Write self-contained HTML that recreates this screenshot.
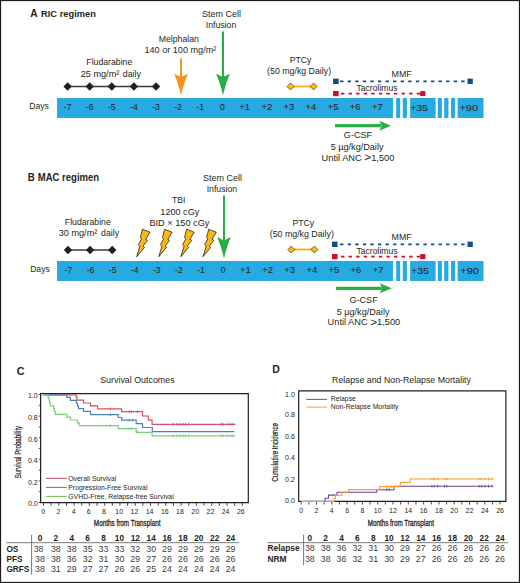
<!DOCTYPE html>
<html><head><meta charset="utf-8"><style>
html,body{margin:0;padding:0;background:#fff;}
body{width:520px;height:583px;overflow:hidden;}
svg{display:block;}
text{font-family:"Liberation Sans", sans-serif;}
</style></head><body>
<svg width="520" height="583" viewBox="0 0 520 583" font-family='"Liberation Sans", sans-serif'>
<rect x="0" y="0" width="520" height="583" fill="#fff"/>
<rect x="0.5" y="0.5" width="519" height="582" fill="none" stroke="#1a1718" stroke-width="1.2"/>
<text x="30.20" y="16.60" font-size="10.8" text-anchor="start" font-weight="700" fill="#231f20" textLength="7.4" lengthAdjust="spacingAndGlyphs">A</text>
<text x="41.00" y="16.60" font-size="9.9" text-anchor="start" font-weight="700" fill="#231f20" textLength="54.9" lengthAdjust="spacingAndGlyphs">RIC regimen</text>
<rect x="57.00" y="98.00" width="336.00" height="20.00" fill="#27a9e1"/>
<rect x="396.20" y="98.00" width="4.00" height="20.00" fill="#27a9e1"/>
<rect x="402.80" y="98.00" width="4.10" height="20.00" fill="#27a9e1"/>
<rect x="410.10" y="98.00" width="25.50" height="20.00" fill="#27a9e1"/>
<rect x="437.80" y="98.00" width="4.10" height="20.00" fill="#27a9e1"/>
<rect x="444.20" y="98.00" width="4.20" height="20.00" fill="#27a9e1"/>
<rect x="451.00" y="98.00" width="4.20" height="20.00" fill="#27a9e1"/>
<rect x="457.60" y="98.00" width="25.90" height="20.00" fill="#27a9e1"/>
<text x="29.20" y="109.10" font-size="8.6" text-anchor="start" font-weight="400" fill="#231f20">Days</text>
<text x="67.60" y="110.40" font-size="8.6" text-anchor="middle" font-weight="400" fill="#231f20">-7</text>
<text x="89.70" y="110.40" font-size="8.6" text-anchor="middle" font-weight="400" fill="#231f20">-6</text>
<text x="111.80" y="110.40" font-size="8.6" text-anchor="middle" font-weight="400" fill="#231f20">-5</text>
<text x="133.90" y="110.40" font-size="8.6" text-anchor="middle" font-weight="400" fill="#231f20">-4</text>
<text x="156.00" y="110.40" font-size="8.6" text-anchor="middle" font-weight="400" fill="#231f20">-3</text>
<text x="178.10" y="110.40" font-size="8.6" text-anchor="middle" font-weight="400" fill="#231f20">-2</text>
<text x="200.20" y="110.40" font-size="8.6" text-anchor="middle" font-weight="400" fill="#231f20">-1</text>
<text x="222.30" y="110.40" font-size="8.6" text-anchor="middle" font-weight="400" fill="#231f20">0</text>
<text x="244.70" y="110.40" font-size="8.6" text-anchor="middle" font-weight="400" fill="#231f20" textLength="10.8" lengthAdjust="spacingAndGlyphs">+1</text>
<text x="266.80" y="110.40" font-size="8.6" text-anchor="middle" font-weight="400" fill="#231f20" textLength="10.8" lengthAdjust="spacingAndGlyphs">+2</text>
<text x="288.90" y="110.40" font-size="8.6" text-anchor="middle" font-weight="400" fill="#231f20" textLength="10.8" lengthAdjust="spacingAndGlyphs">+3</text>
<text x="311.00" y="110.40" font-size="8.6" text-anchor="middle" font-weight="400" fill="#231f20" textLength="10.8" lengthAdjust="spacingAndGlyphs">+4</text>
<text x="333.10" y="110.40" font-size="8.6" text-anchor="middle" font-weight="400" fill="#231f20" textLength="10.8" lengthAdjust="spacingAndGlyphs">+5</text>
<text x="355.20" y="110.40" font-size="8.6" text-anchor="middle" font-weight="400" fill="#231f20" textLength="10.8" lengthAdjust="spacingAndGlyphs">+6</text>
<text x="377.30" y="110.40" font-size="8.6" text-anchor="middle" font-weight="400" fill="#231f20" textLength="10.8" lengthAdjust="spacingAndGlyphs">+7</text>
<text x="410.30" y="110.50" font-size="9.6" text-anchor="start" font-weight="400" fill="#231f20" textLength="17.6" lengthAdjust="spacingAndGlyphs">+35</text>
<text x="459.40" y="110.50" font-size="9.6" text-anchor="start" font-weight="400" fill="#231f20" textLength="18.8" lengthAdjust="spacingAndGlyphs">+90</text>
<rect x="333.10" y="78.60" width="5.50" height="5.40" fill="#0e4f8a"/>
<rect x="467.50" y="78.60" width="5.30" height="5.40" fill="#0e4f8a"/>
<line x1="340.1" y1="81.3" x2="465" y2="81.3" stroke="#0e4f8a" stroke-width="1.8" stroke-dasharray="3.4 4.17"/>
<rect x="333.10" y="91.00" width="5.50" height="5.20" fill="#cc0f2f"/>
<rect x="420.20" y="91.10" width="5.20" height="5.00" fill="#cc0f2f"/>
<line x1="341.0" y1="93.6" x2="420.2" y2="93.6" stroke="#cc0f2f" stroke-width="1.8" stroke-dasharray="3.4 4.17"/>
<text x="391.60" y="76.90" font-size="8.8" text-anchor="start" font-weight="400" fill="#231f20">MMF</text>
<text x="356.50" y="91.20" font-size="8.6" text-anchor="start" font-weight="400" fill="#231f20">Tacrolimus</text>
<line x1="290.5" y1="86.5" x2="313.6" y2="86.5" stroke="#f6b00f" stroke-width="1.8"/>
<path d="M290.50,83.00 L294.00,86.50 L290.50,90.00 L287.00,86.50Z" fill="#fdb913" stroke="#3d3010" stroke-width="0.7"/>
<path d="M313.60,83.00 L317.10,86.50 L313.60,90.00 L310.10,86.50Z" fill="#fdb913" stroke="#3d3010" stroke-width="0.7"/>
<text x="300.60" y="63.00" font-size="8.7" text-anchor="middle" font-weight="400" fill="#231f20">PTCy</text>
<text x="299.10" y="74.40" font-size="8.8" text-anchor="middle" font-weight="400" fill="#231f20">(50 mg/kg Daily)</text>
<text x="221.50" y="16.60" font-size="9.0" text-anchor="middle" font-weight="400" fill="#231f20">Stem Cell</text>
<text x="221.00" y="28.20" font-size="8.7" text-anchor="middle" font-weight="400" fill="#231f20">Infusion</text>
<rect x="335.00" y="124.10" width="46.30" height="3.20" fill="#2aab45"/>
<path d="M379.30,120.70 L391.00,125.70 L379.30,130.70 L381.80,125.70Z" fill="#2aab45"/>
<line x1="67.3" y1="86.5" x2="157.8" y2="86.5" stroke="#3a3a3a" stroke-width="1.4"/>
<path d="M67.60,82.30 L71.80,86.50 L67.60,90.70 L63.40,86.50Z" fill="#231f20"/>
<path d="M89.70,82.30 L93.90,86.50 L89.70,90.70 L85.50,86.50Z" fill="#231f20"/>
<path d="M111.80,82.30 L116.00,86.50 L111.80,90.70 L107.60,86.50Z" fill="#231f20"/>
<path d="M133.90,82.30 L138.10,86.50 L133.90,90.70 L129.70,86.50Z" fill="#231f20"/>
<path d="M156.00,82.30 L160.20,86.50 L156.00,90.70 L151.80,86.50Z" fill="#231f20"/>
<text x="109.30" y="65.00" font-size="8.7" text-anchor="middle" font-weight="400" fill="#231f20">Fludarabine</text>
<text x="80.70" y="76.50" font-size="9.1" text-anchor="start" font-weight="400" fill="#231f20" textLength="38.6" lengthAdjust="spacingAndGlyphs">25 mg/m²</text>
<text x="122.70" y="76.50" font-size="9.1" text-anchor="start" font-weight="400" fill="#231f20" textLength="18.3" lengthAdjust="spacingAndGlyphs">daily</text>
<text x="178.80" y="41.60" font-size="8.7" text-anchor="middle" font-weight="400" fill="#231f20">Melphalan</text>
<text x="180.40" y="52.90" font-size="9.1" text-anchor="middle" font-weight="400" fill="#231f20">140 or 100 mg/m²</text>
<rect x="180.00" y="58.40" width="2.00" height="18.70" fill="#f7941d"/>
<path d="M174.05,73.70 L181.00,77.10 L187.95,73.70 Q184.20,81.70 181.00,95.30 Q177.80,81.70 174.05,73.70Z" fill="#f7941d"/>
<rect x="222.00" y="31.50" width="2.00" height="45.60" fill="#2aab45"/>
<path d="M216.05,73.70 L223.00,77.10 L229.95,73.70 Q226.20,81.70 223.00,95.30 Q219.80,81.70 216.05,73.70Z" fill="#2aab45"/>
<text x="358.00" y="138.00" font-size="9.1" text-anchor="middle" font-weight="400" fill="#231f20">G-CSF</text>
<text x="357.10" y="149.60" font-size="9.1" text-anchor="middle" font-weight="400" fill="#231f20">5 µg/kg/Daily</text>
<text x="321.60" y="160.50" font-size="9.0" text-anchor="start" font-weight="400" fill="#231f20" textLength="72.8" lengthAdjust="spacingAndGlyphs">Until ANC <tspan font-size="11.5" dy="0.9">&gt;</tspan><tspan dy="-0.9">1,500</tspan></text>
<text x="27.80" y="180.70" font-size="10.8" text-anchor="start" font-weight="700" fill="#231f20" textLength="7.0" lengthAdjust="spacingAndGlyphs">B</text>
<text x="37.80" y="180.70" font-size="10.0" text-anchor="start" font-weight="700" fill="#231f20" textLength="61.3" lengthAdjust="spacingAndGlyphs">MAC regimen</text>
<rect x="57.00" y="261.00" width="336.00" height="20.00" fill="#27a9e1"/>
<rect x="396.20" y="261.00" width="4.00" height="20.00" fill="#27a9e1"/>
<rect x="402.80" y="261.00" width="4.10" height="20.00" fill="#27a9e1"/>
<rect x="410.10" y="261.00" width="25.50" height="20.00" fill="#27a9e1"/>
<rect x="437.80" y="261.00" width="4.10" height="20.00" fill="#27a9e1"/>
<rect x="444.20" y="261.00" width="4.20" height="20.00" fill="#27a9e1"/>
<rect x="451.00" y="261.00" width="4.20" height="20.00" fill="#27a9e1"/>
<rect x="457.60" y="261.00" width="25.90" height="20.00" fill="#27a9e1"/>
<text x="30.16" y="272.10" font-size="8.6" text-anchor="start" font-weight="400" fill="#231f20">Days</text>
<text x="68.40" y="273.40" font-size="8.6" text-anchor="middle" font-weight="400" fill="#231f20">-7</text>
<text x="90.50" y="273.40" font-size="8.6" text-anchor="middle" font-weight="400" fill="#231f20">-6</text>
<text x="112.60" y="273.40" font-size="8.6" text-anchor="middle" font-weight="400" fill="#231f20">-5</text>
<text x="134.70" y="273.40" font-size="8.6" text-anchor="middle" font-weight="400" fill="#231f20">-4</text>
<text x="156.80" y="273.40" font-size="8.6" text-anchor="middle" font-weight="400" fill="#231f20">-3</text>
<text x="178.90" y="273.40" font-size="8.6" text-anchor="middle" font-weight="400" fill="#231f20">-2</text>
<text x="201.00" y="273.40" font-size="8.6" text-anchor="middle" font-weight="400" fill="#231f20">-1</text>
<text x="223.10" y="273.40" font-size="8.6" text-anchor="middle" font-weight="400" fill="#231f20">0</text>
<text x="245.50" y="273.40" font-size="8.6" text-anchor="middle" font-weight="400" fill="#231f20" textLength="10.8" lengthAdjust="spacingAndGlyphs">+1</text>
<text x="267.60" y="273.40" font-size="8.6" text-anchor="middle" font-weight="400" fill="#231f20" textLength="10.8" lengthAdjust="spacingAndGlyphs">+2</text>
<text x="289.70" y="273.40" font-size="8.6" text-anchor="middle" font-weight="400" fill="#231f20" textLength="10.8" lengthAdjust="spacingAndGlyphs">+3</text>
<text x="311.80" y="273.40" font-size="8.6" text-anchor="middle" font-weight="400" fill="#231f20" textLength="10.8" lengthAdjust="spacingAndGlyphs">+4</text>
<text x="333.90" y="273.40" font-size="8.6" text-anchor="middle" font-weight="400" fill="#231f20" textLength="10.8" lengthAdjust="spacingAndGlyphs">+5</text>
<text x="356.00" y="273.40" font-size="8.6" text-anchor="middle" font-weight="400" fill="#231f20" textLength="10.8" lengthAdjust="spacingAndGlyphs">+6</text>
<text x="378.10" y="273.40" font-size="8.6" text-anchor="middle" font-weight="400" fill="#231f20" textLength="10.8" lengthAdjust="spacingAndGlyphs">+7</text>
<text x="411.10" y="273.50" font-size="9.6" text-anchor="start" font-weight="400" fill="#231f20" textLength="17.6" lengthAdjust="spacingAndGlyphs">+35</text>
<text x="460.20" y="273.50" font-size="9.6" text-anchor="start" font-weight="400" fill="#231f20" textLength="18.8" lengthAdjust="spacingAndGlyphs">+90</text>
<rect x="332.00" y="241.60" width="5.50" height="5.40" fill="#0e4f8a"/>
<rect x="467.50" y="241.60" width="5.30" height="5.40" fill="#0e4f8a"/>
<line x1="340.1" y1="244.3" x2="465" y2="244.3" stroke="#0e4f8a" stroke-width="1.8" stroke-dasharray="3.4 4.17"/>
<rect x="332.00" y="254.00" width="5.50" height="5.20" fill="#cc0f2f"/>
<rect x="420.20" y="254.10" width="5.20" height="5.00" fill="#cc0f2f"/>
<line x1="341.0" y1="256.6" x2="420.2" y2="256.6" stroke="#cc0f2f" stroke-width="1.8" stroke-dasharray="3.4 4.17"/>
<text x="391.60" y="239.90" font-size="8.8" text-anchor="start" font-weight="400" fill="#231f20">MMF</text>
<text x="356.50" y="254.20" font-size="8.6" text-anchor="start" font-weight="400" fill="#231f20">Tacrolimus</text>
<line x1="291.3" y1="249.5" x2="314.40000000000003" y2="249.5" stroke="#f6b00f" stroke-width="1.8"/>
<path d="M291.30,246.00 L294.80,249.50 L291.30,253.00 L287.80,249.50Z" fill="#fdb913" stroke="#3d3010" stroke-width="0.7"/>
<path d="M314.40,246.00 L317.90,249.50 L314.40,253.00 L310.90,249.50Z" fill="#fdb913" stroke="#3d3010" stroke-width="0.7"/>
<text x="303.30" y="226.00" font-size="8.7" text-anchor="middle" font-weight="400" fill="#231f20">PTCy</text>
<text x="301.80" y="237.40" font-size="8.8" text-anchor="middle" font-weight="400" fill="#231f20">(50 mg/kg Daily)</text>
<text x="222.40" y="180.50" font-size="9.0" text-anchor="middle" font-weight="400" fill="#231f20">Stem Cell</text>
<text x="221.90" y="192.10" font-size="8.7" text-anchor="middle" font-weight="400" fill="#231f20">Infusion</text>
<rect x="335.90" y="286.74" width="45.85" height="3.20" fill="#2aab45"/>
<path d="M379.75,283.34 L391.90,288.34 L379.75,293.34 L382.25,288.34Z" fill="#2aab45"/>
<line x1="68" y1="250" x2="112.8" y2="250" stroke="#3a3a3a" stroke-width="1.4"/>
<path d="M68.00,245.80 L72.20,250.00 L68.00,254.20 L63.80,250.00Z" fill="#231f20"/>
<path d="M90.10,245.80 L94.30,250.00 L90.10,254.20 L85.90,250.00Z" fill="#231f20"/>
<path d="M112.20,245.80 L116.40,250.00 L112.20,254.20 L108.00,250.00Z" fill="#231f20"/>
<text x="87.80" y="224.60" font-size="8.7" text-anchor="middle" font-weight="400" fill="#231f20">Fludarabine</text>
<text x="58.70" y="236.00" font-size="9.1" text-anchor="start" font-weight="400" fill="#231f20" textLength="38.6" lengthAdjust="spacingAndGlyphs">30 mg/m²</text>
<text x="101.10" y="236.00" font-size="9.1" text-anchor="start" font-weight="400" fill="#231f20" textLength="17.9" lengthAdjust="spacingAndGlyphs">daily</text>
<text x="178.80" y="203.00" font-size="8.6" text-anchor="middle" font-weight="400" fill="#231f20">TBI</text>
<text x="179.80" y="214.50" font-size="9.1" text-anchor="middle" font-weight="400" fill="#231f20">1200 cGy</text>
<text x="179.40" y="225.50" font-size="9.2" text-anchor="middle" font-weight="400" fill="#231f20">BID × 150 cGy</text>
<path d="M142.43,229.22 L150.01,232.31 L145.64,239.31 L147.50,240.30 L143.01,246.13 L144.47,247.30 L136.60,256.80 L139.81,246.42 L138.35,244.67 L141.44,239.13 L140.39,237.38Z" fill="#fdb913" stroke="#2a2010" stroke-width="0.8" stroke-linejoin="miter"/>
<path d="M164.53,229.22 L172.11,232.31 L167.74,239.31 L169.60,240.30 L165.11,246.13 L166.57,247.30 L158.70,256.80 L161.91,246.42 L160.45,244.67 L163.54,239.13 L162.49,237.38Z" fill="#fdb913" stroke="#2a2010" stroke-width="0.8" stroke-linejoin="miter"/>
<path d="M186.63,229.22 L194.21,232.31 L189.84,239.31 L191.70,240.30 L187.21,246.13 L188.67,247.30 L180.80,256.80 L184.01,246.42 L182.55,244.67 L185.64,239.13 L184.59,237.38Z" fill="#fdb913" stroke="#2a2010" stroke-width="0.8" stroke-linejoin="miter"/>
<path d="M208.73,229.22 L216.31,232.31 L211.94,239.31 L213.80,240.30 L209.31,246.13 L210.77,247.30 L202.90,256.80 L206.11,246.42 L204.65,244.67 L207.74,239.13 L206.69,237.38Z" fill="#fdb913" stroke="#2a2010" stroke-width="0.8" stroke-linejoin="miter"/>
<rect x="223.00" y="195.50" width="2.00" height="45.00" fill="#2aab45"/>
<path d="M217.05,237.10 L224.00,240.50 L230.95,237.10 Q227.20,245.10 224.00,258.50 Q220.80,245.10 217.05,237.10Z" fill="#2aab45"/>
<text x="363.60" y="303.40" font-size="9.1" text-anchor="middle" font-weight="400" fill="#231f20">G-CSF</text>
<text x="363.10" y="314.90" font-size="9.1" text-anchor="middle" font-weight="400" fill="#231f20">5 µg/kg/Daily</text>
<text x="327.60" y="325.30" font-size="9.0" text-anchor="start" font-weight="400" fill="#231f20" textLength="72.6" lengthAdjust="spacingAndGlyphs">Until ANC <tspan font-size="11.5" dy="0.9">&gt;</tspan><tspan dy="-0.9">1,500</tspan></text>
<text x="16.80" y="374.60" font-size="10.8" text-anchor="start" font-weight="700" fill="#231f20" textLength="7.8" lengthAdjust="spacingAndGlyphs">C</text>
<text x="137.40" y="382.90" font-size="8.9" text-anchor="middle" font-weight="400" fill="#231f20">Survival Outcomes</text>
<path d="M40.6,393.6 L248.3,393.6 L248.3,502.7 L40.6,502.7 Z" fill="none" stroke="#231f20" stroke-width="1.2"/>
<line x1="38.8" y1="502.50" x2="40.6" y2="502.50" stroke="#231f20" stroke-width="0.8"/>
<line x1="38.8" y1="491.70" x2="40.6" y2="491.70" stroke="#231f20" stroke-width="0.8"/>
<line x1="38.8" y1="480.90" x2="40.6" y2="480.90" stroke="#231f20" stroke-width="0.8"/>
<line x1="38.8" y1="470.10" x2="40.6" y2="470.10" stroke="#231f20" stroke-width="0.8"/>
<line x1="38.8" y1="459.30" x2="40.6" y2="459.30" stroke="#231f20" stroke-width="0.8"/>
<line x1="38.8" y1="448.50" x2="40.6" y2="448.50" stroke="#231f20" stroke-width="0.8"/>
<line x1="38.8" y1="437.70" x2="40.6" y2="437.70" stroke="#231f20" stroke-width="0.8"/>
<line x1="38.8" y1="426.90" x2="40.6" y2="426.90" stroke="#231f20" stroke-width="0.8"/>
<line x1="38.8" y1="416.10" x2="40.6" y2="416.10" stroke="#231f20" stroke-width="0.8"/>
<line x1="38.8" y1="405.30" x2="40.6" y2="405.30" stroke="#231f20" stroke-width="0.8"/>
<line x1="38.8" y1="394.50" x2="40.6" y2="394.50" stroke="#231f20" stroke-width="0.8"/>
<text x="37.70" y="506.30" font-size="7.0" text-anchor="end" font-weight="400" fill="#231f20">0.0</text>
<text x="37.70" y="484.70" font-size="7.0" text-anchor="end" font-weight="400" fill="#231f20">0.2</text>
<text x="37.70" y="463.10" font-size="7.0" text-anchor="end" font-weight="400" fill="#231f20">0.4</text>
<text x="37.70" y="441.50" font-size="7.0" text-anchor="end" font-weight="400" fill="#231f20">0.6</text>
<text x="37.70" y="419.90" font-size="7.0" text-anchor="end" font-weight="400" fill="#231f20">0.8</text>
<text x="37.70" y="398.30" font-size="7.0" text-anchor="end" font-weight="400" fill="#231f20">1.0</text>
<line x1="43.50" y1="502.7" x2="43.50" y2="505.8" stroke="#231f20" stroke-width="0.8"/>
<line x1="51.15" y1="502.7" x2="51.15" y2="505.8" stroke="#231f20" stroke-width="0.8"/>
<line x1="58.79" y1="502.7" x2="58.79" y2="505.8" stroke="#231f20" stroke-width="0.8"/>
<line x1="66.44" y1="502.7" x2="66.44" y2="505.8" stroke="#231f20" stroke-width="0.8"/>
<line x1="74.08" y1="502.7" x2="74.08" y2="505.8" stroke="#231f20" stroke-width="0.8"/>
<line x1="81.73" y1="502.7" x2="81.73" y2="505.8" stroke="#231f20" stroke-width="0.8"/>
<line x1="89.38" y1="502.7" x2="89.38" y2="505.8" stroke="#231f20" stroke-width="0.8"/>
<line x1="97.02" y1="502.7" x2="97.02" y2="505.8" stroke="#231f20" stroke-width="0.8"/>
<line x1="104.67" y1="502.7" x2="104.67" y2="505.8" stroke="#231f20" stroke-width="0.8"/>
<line x1="112.31" y1="502.7" x2="112.31" y2="505.8" stroke="#231f20" stroke-width="0.8"/>
<line x1="119.96" y1="502.7" x2="119.96" y2="505.8" stroke="#231f20" stroke-width="0.8"/>
<line x1="127.61" y1="502.7" x2="127.61" y2="505.8" stroke="#231f20" stroke-width="0.8"/>
<line x1="135.25" y1="502.7" x2="135.25" y2="505.8" stroke="#231f20" stroke-width="0.8"/>
<line x1="142.90" y1="502.7" x2="142.90" y2="505.8" stroke="#231f20" stroke-width="0.8"/>
<line x1="150.54" y1="502.7" x2="150.54" y2="505.8" stroke="#231f20" stroke-width="0.8"/>
<line x1="158.19" y1="502.7" x2="158.19" y2="505.8" stroke="#231f20" stroke-width="0.8"/>
<line x1="165.84" y1="502.7" x2="165.84" y2="505.8" stroke="#231f20" stroke-width="0.8"/>
<line x1="173.48" y1="502.7" x2="173.48" y2="505.8" stroke="#231f20" stroke-width="0.8"/>
<line x1="181.13" y1="502.7" x2="181.13" y2="505.8" stroke="#231f20" stroke-width="0.8"/>
<line x1="188.77" y1="502.7" x2="188.77" y2="505.8" stroke="#231f20" stroke-width="0.8"/>
<line x1="196.42" y1="502.7" x2="196.42" y2="505.8" stroke="#231f20" stroke-width="0.8"/>
<line x1="204.07" y1="502.7" x2="204.07" y2="505.8" stroke="#231f20" stroke-width="0.8"/>
<line x1="211.71" y1="502.7" x2="211.71" y2="505.8" stroke="#231f20" stroke-width="0.8"/>
<line x1="219.36" y1="502.7" x2="219.36" y2="505.8" stroke="#231f20" stroke-width="0.8"/>
<line x1="227.00" y1="502.7" x2="227.00" y2="505.8" stroke="#231f20" stroke-width="0.8"/>
<line x1="234.65" y1="502.7" x2="234.65" y2="505.8" stroke="#231f20" stroke-width="0.8"/>
<line x1="242.30" y1="502.7" x2="242.30" y2="505.8" stroke="#231f20" stroke-width="0.8"/>
<text x="43.20" y="513.50" font-size="7.0" text-anchor="middle" font-weight="400" fill="#231f20">0</text>
<text x="58.40" y="513.50" font-size="7.0" text-anchor="middle" font-weight="400" fill="#231f20">2</text>
<text x="73.60" y="513.50" font-size="7.0" text-anchor="middle" font-weight="400" fill="#231f20">4</text>
<text x="88.80" y="513.50" font-size="7.0" text-anchor="middle" font-weight="400" fill="#231f20">6</text>
<text x="104.00" y="513.50" font-size="7.0" text-anchor="middle" font-weight="400" fill="#231f20">8</text>
<text x="119.20" y="513.50" font-size="7.0" text-anchor="middle" font-weight="400" fill="#231f20">10</text>
<text x="134.40" y="513.50" font-size="7.0" text-anchor="middle" font-weight="400" fill="#231f20">12</text>
<text x="149.60" y="513.50" font-size="7.0" text-anchor="middle" font-weight="400" fill="#231f20">14</text>
<text x="164.80" y="513.50" font-size="7.0" text-anchor="middle" font-weight="400" fill="#231f20">16</text>
<text x="180.00" y="513.50" font-size="7.0" text-anchor="middle" font-weight="400" fill="#231f20">18</text>
<text x="195.20" y="513.50" font-size="7.0" text-anchor="middle" font-weight="400" fill="#231f20">20</text>
<text x="210.40" y="513.50" font-size="7.0" text-anchor="middle" font-weight="400" fill="#231f20">22</text>
<text x="225.60" y="513.50" font-size="7.0" text-anchor="middle" font-weight="400" fill="#231f20">24</text>
<text x="240.80" y="513.50" font-size="7.0" text-anchor="middle" font-weight="400" fill="#231f20">26</text>
<text x="127.20" y="525.60" font-size="9.0" text-anchor="middle" font-weight="400" fill="#231f20" textLength="66.7" lengthAdjust="spacingAndGlyphs" stroke="#231f20" stroke-width="0.3">Months from Transplant</text>
<text x="0" y="0" font-size="8.2" text-anchor="middle" fill="#231f20" textLength="52.8" lengthAdjust="spacingAndGlyphs" stroke="#231f20" stroke-width="0.2" transform="translate(20.6,452.2) rotate(-90)">Survival Probability</text>
<path d="M43.50,394.90 76.30,394.90 76.30,397.40 77.00,397.40 77.00,400.20 83.60,400.20 83.60,403.00 90.50,403.00 90.50,405.90 97.50,405.90 97.50,408.80 121.50,408.80 121.50,411.70 142.50,411.70 142.50,416.00 148.30,416.00 148.30,420.20 152.10,420.20 152.10,424.30 235.40,424.30" fill="none" stroke="#d8506a" stroke-width="1.2" stroke-linejoin="miter"/>
<path d="M43.50,394.90 66.90,394.90 66.90,397.40 70.40,397.40 70.40,400.30 76.40,400.30 76.40,403.00 77.50,403.00 77.50,405.90 78.50,405.90 78.50,408.60 83.60,408.60 83.60,411.40 90.50,411.40 90.50,414.60 118.20,414.60 118.20,417.50 121.70,417.50 121.70,420.20 136.20,420.20 136.20,423.70 142.50,423.70 142.50,427.50 152.30,427.50 152.30,431.60 234.30,431.60" fill="none" stroke="#4a82b4" stroke-width="1.2" stroke-linejoin="miter"/>
<path d="M43.50,394.90 48.10,394.90 48.10,397.30 49.00,397.30 49.00,400.20 49.60,400.20 49.60,403.00 50.40,403.00 50.40,405.90 53.80,405.90 53.80,408.70 54.40,408.70 54.40,411.60 55.50,411.60 55.50,414.40 66.90,414.40 66.90,417.10 70.40,417.10 70.40,420.00 77.50,420.00 77.50,422.90 79.20,422.90 79.20,425.60 118.20,425.60 118.20,428.70 136.20,428.70 136.20,432.30 152.10,432.30 152.10,435.80 235.40,435.80" fill="none" stroke="#78cf7e" stroke-width="1.2" stroke-linejoin="miter"/>
<line x1="110.40" y1="407.40" x2="110.40" y2="410.20" stroke="#d8506a" stroke-width="0.9"/>
<line x1="129.20" y1="410.30" x2="129.20" y2="413.10" stroke="#d8506a" stroke-width="0.9"/>
<line x1="131.50" y1="410.30" x2="131.50" y2="413.10" stroke="#d8506a" stroke-width="0.9"/>
<line x1="137.30" y1="410.30" x2="137.30" y2="413.10" stroke="#d8506a" stroke-width="0.9"/>
<line x1="173.00" y1="422.90" x2="173.00" y2="425.70" stroke="#d8506a" stroke-width="0.9"/>
<line x1="176.90" y1="422.90" x2="176.90" y2="425.70" stroke="#d8506a" stroke-width="0.9"/>
<line x1="180.00" y1="422.90" x2="180.00" y2="425.70" stroke="#d8506a" stroke-width="0.9"/>
<line x1="183.00" y1="422.90" x2="183.00" y2="425.70" stroke="#d8506a" stroke-width="0.9"/>
<line x1="185.40" y1="422.90" x2="185.40" y2="425.70" stroke="#d8506a" stroke-width="0.9"/>
<line x1="188.50" y1="422.90" x2="188.50" y2="425.70" stroke="#d8506a" stroke-width="0.9"/>
<line x1="221.50" y1="422.90" x2="221.50" y2="425.70" stroke="#d8506a" stroke-width="0.9"/>
<line x1="223.00" y1="422.90" x2="223.00" y2="425.70" stroke="#d8506a" stroke-width="0.9"/>
<line x1="227.70" y1="422.90" x2="227.70" y2="425.70" stroke="#d8506a" stroke-width="0.9"/>
<line x1="230.80" y1="422.90" x2="230.80" y2="425.70" stroke="#d8506a" stroke-width="0.9"/>
<line x1="233.00" y1="422.90" x2="233.00" y2="425.70" stroke="#d8506a" stroke-width="0.9"/>
<line x1="110.40" y1="413.20" x2="110.40" y2="416.00" stroke="#4a82b4" stroke-width="0.9"/>
<line x1="129.20" y1="418.80" x2="129.20" y2="421.60" stroke="#4a82b4" stroke-width="0.9"/>
<line x1="132.50" y1="418.80" x2="132.50" y2="421.60" stroke="#4a82b4" stroke-width="0.9"/>
<line x1="110.40" y1="424.20" x2="110.40" y2="427.00" stroke="#78cf7e" stroke-width="0.9"/>
<line x1="129.20" y1="427.30" x2="129.20" y2="430.10" stroke="#78cf7e" stroke-width="0.9"/>
<line x1="131.50" y1="427.30" x2="131.50" y2="430.10" stroke="#78cf7e" stroke-width="0.9"/>
<line x1="137.30" y1="430.90" x2="137.30" y2="433.70" stroke="#78cf7e" stroke-width="0.9"/>
<line x1="173.00" y1="434.40" x2="173.00" y2="437.20" stroke="#78cf7e" stroke-width="0.9"/>
<line x1="176.90" y1="434.40" x2="176.90" y2="437.20" stroke="#78cf7e" stroke-width="0.9"/>
<line x1="180.00" y1="434.40" x2="180.00" y2="437.20" stroke="#78cf7e" stroke-width="0.9"/>
<line x1="183.00" y1="434.40" x2="183.00" y2="437.20" stroke="#78cf7e" stroke-width="0.9"/>
<line x1="185.40" y1="434.40" x2="185.40" y2="437.20" stroke="#78cf7e" stroke-width="0.9"/>
<line x1="188.50" y1="434.40" x2="188.50" y2="437.20" stroke="#78cf7e" stroke-width="0.9"/>
<line x1="221.50" y1="434.40" x2="221.50" y2="437.20" stroke="#78cf7e" stroke-width="0.9"/>
<line x1="223.00" y1="434.40" x2="223.00" y2="437.20" stroke="#78cf7e" stroke-width="0.9"/>
<line x1="227.70" y1="434.40" x2="227.70" y2="437.20" stroke="#78cf7e" stroke-width="0.9"/>
<line x1="230.80" y1="434.40" x2="230.80" y2="437.20" stroke="#78cf7e" stroke-width="0.9"/>
<line x1="233.00" y1="434.40" x2="233.00" y2="437.20" stroke="#78cf7e" stroke-width="0.9"/>
<line x1="46" y1="478.4" x2="66.7" y2="478.4" stroke="#c95a78" stroke-width="1.1"/>
<line x1="46" y1="487.4" x2="66.7" y2="487.4" stroke="#4a8fa5" stroke-width="1.1"/>
<line x1="46" y1="496.4" x2="66.7" y2="496.4" stroke="#7bbf5c" stroke-width="1.1"/>
<text x="68.30" y="480.70" font-size="6.85" text-anchor="start" font-weight="400" fill="#231f20">Overall Survival</text>
<text x="68.30" y="489.90" font-size="6.85" text-anchor="start" font-weight="400" fill="#231f20">Progression-Free Survival</text>
<text x="68.30" y="499.00" font-size="6.85" text-anchor="start" font-weight="400" fill="#231f20">GVHD-Free, Relapse-free Survival</text>
<line x1="31.6" y1="534.8" x2="31.6" y2="574.7" stroke="#6a6a6a" stroke-width="0.9"/>
<line x1="6.2" y1="542.7" x2="239.3" y2="542.7" stroke="#6a6a6a" stroke-width="0.9"/>
<text x="40.00" y="540.70" font-size="8.3" text-anchor="middle" font-weight="700" fill="#231f20">0</text>
<text x="55.88" y="540.70" font-size="8.3" text-anchor="middle" font-weight="700" fill="#231f20">2</text>
<text x="71.76" y="540.70" font-size="8.3" text-anchor="middle" font-weight="700" fill="#231f20">4</text>
<text x="87.64" y="540.70" font-size="8.3" text-anchor="middle" font-weight="700" fill="#231f20">6</text>
<text x="103.52" y="540.70" font-size="8.3" text-anchor="middle" font-weight="700" fill="#231f20">8</text>
<text x="119.40" y="540.70" font-size="8.3" text-anchor="middle" font-weight="700" fill="#231f20">10</text>
<text x="135.28" y="540.70" font-size="8.3" text-anchor="middle" font-weight="700" fill="#231f20">12</text>
<text x="151.16" y="540.70" font-size="8.3" text-anchor="middle" font-weight="700" fill="#231f20">14</text>
<text x="167.04" y="540.70" font-size="8.3" text-anchor="middle" font-weight="700" fill="#231f20">16</text>
<text x="182.92" y="540.70" font-size="8.3" text-anchor="middle" font-weight="700" fill="#231f20">18</text>
<text x="198.80" y="540.70" font-size="8.3" text-anchor="middle" font-weight="700" fill="#231f20">20</text>
<text x="214.68" y="540.70" font-size="8.3" text-anchor="middle" font-weight="700" fill="#231f20">22</text>
<text x="230.56" y="540.70" font-size="8.3" text-anchor="middle" font-weight="700" fill="#231f20">24</text>
<text x="6.40" y="551.60" font-size="8.7" text-anchor="start" font-weight="700" fill="#231f20" textLength="12.0" lengthAdjust="spacingAndGlyphs">OS</text>
<text x="38.60" y="551.60" font-size="8.3" text-anchor="middle" font-weight="400" fill="#3c3c3c" textLength="9.8" lengthAdjust="spacingAndGlyphs">38</text>
<text x="55.88" y="551.60" font-size="8.3" text-anchor="middle" font-weight="400" fill="#3c3c3c" textLength="9.8" lengthAdjust="spacingAndGlyphs">38</text>
<text x="71.76" y="551.60" font-size="8.3" text-anchor="middle" font-weight="400" fill="#3c3c3c" textLength="9.8" lengthAdjust="spacingAndGlyphs">38</text>
<text x="87.64" y="551.60" font-size="8.3" text-anchor="middle" font-weight="400" fill="#3c3c3c" textLength="9.8" lengthAdjust="spacingAndGlyphs">35</text>
<text x="103.52" y="551.60" font-size="8.3" text-anchor="middle" font-weight="400" fill="#3c3c3c" textLength="9.8" lengthAdjust="spacingAndGlyphs">33</text>
<text x="119.40" y="551.60" font-size="8.3" text-anchor="middle" font-weight="400" fill="#3c3c3c" textLength="9.8" lengthAdjust="spacingAndGlyphs">33</text>
<text x="135.28" y="551.60" font-size="8.3" text-anchor="middle" font-weight="400" fill="#3c3c3c" textLength="9.8" lengthAdjust="spacingAndGlyphs">32</text>
<text x="151.16" y="551.60" font-size="8.3" text-anchor="middle" font-weight="400" fill="#3c3c3c" textLength="9.8" lengthAdjust="spacingAndGlyphs">30</text>
<text x="167.04" y="551.60" font-size="8.3" text-anchor="middle" font-weight="400" fill="#3c3c3c" textLength="9.8" lengthAdjust="spacingAndGlyphs">29</text>
<text x="182.92" y="551.60" font-size="8.3" text-anchor="middle" font-weight="400" fill="#3c3c3c" textLength="9.8" lengthAdjust="spacingAndGlyphs">29</text>
<text x="198.80" y="551.60" font-size="8.3" text-anchor="middle" font-weight="400" fill="#3c3c3c" textLength="9.8" lengthAdjust="spacingAndGlyphs">29</text>
<text x="214.68" y="551.60" font-size="8.3" text-anchor="middle" font-weight="400" fill="#3c3c3c" textLength="9.8" lengthAdjust="spacingAndGlyphs">29</text>
<text x="230.56" y="551.60" font-size="8.3" text-anchor="middle" font-weight="400" fill="#3c3c3c" textLength="9.8" lengthAdjust="spacingAndGlyphs">29</text>
<text x="6.40" y="561.60" font-size="8.7" text-anchor="start" font-weight="700" fill="#231f20" textLength="16.1" lengthAdjust="spacingAndGlyphs">PFS</text>
<text x="40.00" y="561.60" font-size="8.3" text-anchor="middle" font-weight="400" fill="#3c3c3c" textLength="9.8" lengthAdjust="spacingAndGlyphs">38</text>
<text x="55.88" y="561.60" font-size="8.3" text-anchor="middle" font-weight="400" fill="#3c3c3c" textLength="9.8" lengthAdjust="spacingAndGlyphs">38</text>
<text x="71.76" y="561.60" font-size="8.3" text-anchor="middle" font-weight="400" fill="#3c3c3c" textLength="9.8" lengthAdjust="spacingAndGlyphs">36</text>
<text x="87.64" y="561.60" font-size="8.3" text-anchor="middle" font-weight="400" fill="#3c3c3c" textLength="9.8" lengthAdjust="spacingAndGlyphs">32</text>
<text x="103.52" y="561.60" font-size="8.3" text-anchor="middle" font-weight="400" fill="#3c3c3c" textLength="9.8" lengthAdjust="spacingAndGlyphs">31</text>
<text x="119.40" y="561.60" font-size="8.3" text-anchor="middle" font-weight="400" fill="#3c3c3c" textLength="9.8" lengthAdjust="spacingAndGlyphs">30</text>
<text x="135.28" y="561.60" font-size="8.3" text-anchor="middle" font-weight="400" fill="#3c3c3c" textLength="9.8" lengthAdjust="spacingAndGlyphs">29</text>
<text x="151.16" y="561.60" font-size="8.3" text-anchor="middle" font-weight="400" fill="#3c3c3c" textLength="9.8" lengthAdjust="spacingAndGlyphs">27</text>
<text x="167.04" y="561.60" font-size="8.3" text-anchor="middle" font-weight="400" fill="#3c3c3c" textLength="9.8" lengthAdjust="spacingAndGlyphs">26</text>
<text x="182.92" y="561.60" font-size="8.3" text-anchor="middle" font-weight="400" fill="#3c3c3c" textLength="9.8" lengthAdjust="spacingAndGlyphs">26</text>
<text x="198.80" y="561.60" font-size="8.3" text-anchor="middle" font-weight="400" fill="#3c3c3c" textLength="9.8" lengthAdjust="spacingAndGlyphs">26</text>
<text x="214.68" y="561.60" font-size="8.3" text-anchor="middle" font-weight="400" fill="#3c3c3c" textLength="9.8" lengthAdjust="spacingAndGlyphs">26</text>
<text x="230.56" y="561.60" font-size="8.3" text-anchor="middle" font-weight="400" fill="#3c3c3c" textLength="9.8" lengthAdjust="spacingAndGlyphs">26</text>
<text x="6.40" y="571.80" font-size="8.7" text-anchor="start" font-weight="700" fill="#231f20" textLength="22.7" lengthAdjust="spacingAndGlyphs">GRFS</text>
<text x="40.00" y="571.80" font-size="8.3" text-anchor="middle" font-weight="400" fill="#3c3c3c" textLength="9.8" lengthAdjust="spacingAndGlyphs">38</text>
<text x="55.88" y="571.80" font-size="8.3" text-anchor="middle" font-weight="400" fill="#3c3c3c" textLength="9.8" lengthAdjust="spacingAndGlyphs">31</text>
<text x="71.76" y="571.80" font-size="8.3" text-anchor="middle" font-weight="400" fill="#3c3c3c" textLength="9.8" lengthAdjust="spacingAndGlyphs">29</text>
<text x="87.64" y="571.80" font-size="8.3" text-anchor="middle" font-weight="400" fill="#3c3c3c" textLength="9.8" lengthAdjust="spacingAndGlyphs">27</text>
<text x="103.52" y="571.80" font-size="8.3" text-anchor="middle" font-weight="400" fill="#3c3c3c" textLength="9.8" lengthAdjust="spacingAndGlyphs">27</text>
<text x="119.40" y="571.80" font-size="8.3" text-anchor="middle" font-weight="400" fill="#3c3c3c" textLength="9.8" lengthAdjust="spacingAndGlyphs">26</text>
<text x="135.28" y="571.80" font-size="8.3" text-anchor="middle" font-weight="400" fill="#3c3c3c" textLength="9.8" lengthAdjust="spacingAndGlyphs">26</text>
<text x="151.16" y="571.80" font-size="8.3" text-anchor="middle" font-weight="400" fill="#3c3c3c" textLength="9.8" lengthAdjust="spacingAndGlyphs">25</text>
<text x="167.04" y="571.80" font-size="8.3" text-anchor="middle" font-weight="400" fill="#3c3c3c" textLength="9.8" lengthAdjust="spacingAndGlyphs">24</text>
<text x="182.92" y="571.80" font-size="8.3" text-anchor="middle" font-weight="400" fill="#3c3c3c" textLength="9.8" lengthAdjust="spacingAndGlyphs">24</text>
<text x="198.80" y="571.80" font-size="8.3" text-anchor="middle" font-weight="400" fill="#3c3c3c" textLength="9.8" lengthAdjust="spacingAndGlyphs">24</text>
<text x="214.68" y="571.80" font-size="8.3" text-anchor="middle" font-weight="400" fill="#3c3c3c" textLength="9.8" lengthAdjust="spacingAndGlyphs">24</text>
<text x="230.56" y="571.80" font-size="8.3" text-anchor="middle" font-weight="400" fill="#3c3c3c" textLength="9.8" lengthAdjust="spacingAndGlyphs">24</text>
<text x="272.20" y="373.40" font-size="10.8" text-anchor="start" font-weight="700" fill="#231f20" textLength="7.6" lengthAdjust="spacingAndGlyphs">D</text>
<text x="401.50" y="383.00" font-size="8.8" text-anchor="middle" font-weight="400" fill="#231f20">Relapse and Non-Relapse Mortality</text>
<path d="M298.7,390.8 L505.9,390.8 L505.9,501.4 L298.7,501.4 Z" fill="none" stroke="#231f20" stroke-width="1.2"/>
<text x="294.80" y="503.10" font-size="7.0" text-anchor="end" font-weight="400" fill="#231f20">0.0</text>
<text x="294.80" y="481.90" font-size="7.0" text-anchor="end" font-weight="400" fill="#231f20">0.2</text>
<text x="294.80" y="460.30" font-size="7.0" text-anchor="end" font-weight="400" fill="#231f20">0.4</text>
<text x="294.80" y="439.20" font-size="7.0" text-anchor="end" font-weight="400" fill="#231f20">0.6</text>
<text x="294.80" y="417.40" font-size="7.0" text-anchor="end" font-weight="400" fill="#231f20">0.8</text>
<text x="294.80" y="396.70" font-size="7.0" text-anchor="end" font-weight="400" fill="#231f20">1.0</text>
<line x1="301.20" y1="501.4" x2="301.20" y2="504.5" stroke="#231f20" stroke-width="0.8"/>
<line x1="308.85" y1="501.4" x2="308.85" y2="504.5" stroke="#231f20" stroke-width="0.8"/>
<line x1="316.50" y1="501.4" x2="316.50" y2="504.5" stroke="#231f20" stroke-width="0.8"/>
<line x1="324.15" y1="501.4" x2="324.15" y2="504.5" stroke="#231f20" stroke-width="0.8"/>
<line x1="331.80" y1="501.4" x2="331.80" y2="504.5" stroke="#231f20" stroke-width="0.8"/>
<line x1="339.45" y1="501.4" x2="339.45" y2="504.5" stroke="#231f20" stroke-width="0.8"/>
<line x1="347.10" y1="501.4" x2="347.10" y2="504.5" stroke="#231f20" stroke-width="0.8"/>
<line x1="354.75" y1="501.4" x2="354.75" y2="504.5" stroke="#231f20" stroke-width="0.8"/>
<line x1="362.40" y1="501.4" x2="362.40" y2="504.5" stroke="#231f20" stroke-width="0.8"/>
<line x1="370.05" y1="501.4" x2="370.05" y2="504.5" stroke="#231f20" stroke-width="0.8"/>
<line x1="377.70" y1="501.4" x2="377.70" y2="504.5" stroke="#231f20" stroke-width="0.8"/>
<line x1="385.35" y1="501.4" x2="385.35" y2="504.5" stroke="#231f20" stroke-width="0.8"/>
<line x1="393.00" y1="501.4" x2="393.00" y2="504.5" stroke="#231f20" stroke-width="0.8"/>
<line x1="400.65" y1="501.4" x2="400.65" y2="504.5" stroke="#231f20" stroke-width="0.8"/>
<line x1="408.30" y1="501.4" x2="408.30" y2="504.5" stroke="#231f20" stroke-width="0.8"/>
<line x1="415.95" y1="501.4" x2="415.95" y2="504.5" stroke="#231f20" stroke-width="0.8"/>
<line x1="423.60" y1="501.4" x2="423.60" y2="504.5" stroke="#231f20" stroke-width="0.8"/>
<line x1="431.25" y1="501.4" x2="431.25" y2="504.5" stroke="#231f20" stroke-width="0.8"/>
<line x1="438.90" y1="501.4" x2="438.90" y2="504.5" stroke="#231f20" stroke-width="0.8"/>
<line x1="446.55" y1="501.4" x2="446.55" y2="504.5" stroke="#231f20" stroke-width="0.8"/>
<line x1="454.20" y1="501.4" x2="454.20" y2="504.5" stroke="#231f20" stroke-width="0.8"/>
<line x1="461.85" y1="501.4" x2="461.85" y2="504.5" stroke="#231f20" stroke-width="0.8"/>
<line x1="469.50" y1="501.4" x2="469.50" y2="504.5" stroke="#231f20" stroke-width="0.8"/>
<line x1="477.15" y1="501.4" x2="477.15" y2="504.5" stroke="#231f20" stroke-width="0.8"/>
<line x1="484.80" y1="501.4" x2="484.80" y2="504.5" stroke="#231f20" stroke-width="0.8"/>
<line x1="492.45" y1="501.4" x2="492.45" y2="504.5" stroke="#231f20" stroke-width="0.8"/>
<line x1="500.10" y1="501.4" x2="500.10" y2="504.5" stroke="#231f20" stroke-width="0.8"/>
<text x="301.20" y="513.40" font-size="7.0" text-anchor="middle" font-weight="400" fill="#231f20">0</text>
<text x="316.50" y="513.40" font-size="7.0" text-anchor="middle" font-weight="400" fill="#231f20">2</text>
<text x="331.80" y="513.40" font-size="7.0" text-anchor="middle" font-weight="400" fill="#231f20">4</text>
<text x="347.10" y="513.40" font-size="7.0" text-anchor="middle" font-weight="400" fill="#231f20">6</text>
<text x="362.40" y="513.40" font-size="7.0" text-anchor="middle" font-weight="400" fill="#231f20">8</text>
<text x="377.70" y="513.40" font-size="7.0" text-anchor="middle" font-weight="400" fill="#231f20">10</text>
<text x="393.00" y="513.40" font-size="7.0" text-anchor="middle" font-weight="400" fill="#231f20">12</text>
<text x="408.30" y="513.40" font-size="7.0" text-anchor="middle" font-weight="400" fill="#231f20">14</text>
<text x="423.60" y="513.40" font-size="7.0" text-anchor="middle" font-weight="400" fill="#231f20">16</text>
<text x="438.90" y="513.40" font-size="7.0" text-anchor="middle" font-weight="400" fill="#231f20">18</text>
<text x="454.20" y="513.40" font-size="7.0" text-anchor="middle" font-weight="400" fill="#231f20">20</text>
<text x="469.50" y="513.40" font-size="7.0" text-anchor="middle" font-weight="400" fill="#231f20">22</text>
<text x="484.80" y="513.40" font-size="7.0" text-anchor="middle" font-weight="400" fill="#231f20">24</text>
<text x="500.10" y="513.40" font-size="7.0" text-anchor="middle" font-weight="400" fill="#231f20">26</text>
<text x="400.80" y="525.80" font-size="9.0" text-anchor="middle" font-weight="400" fill="#231f20" textLength="66.2" lengthAdjust="spacingAndGlyphs" stroke="#231f20" stroke-width="0.3">Months from Transplant</text>
<text x="0" y="0" font-size="8.8" text-anchor="middle" fill="#231f20" textLength="58.6" lengthAdjust="spacingAndGlyphs" stroke="#231f20" stroke-width="0.2" transform="translate(278.4,452.3) rotate(-90)">Cumulative Incidence</text>
<path d="M301.20,501.50 325.00,501.50 325.00,498.20 328.50,498.20 328.50,495.10 337.00,495.10 337.00,492.30 376.70,492.30 376.70,489.70 394.00,489.70 394.00,486.20 493.10,486.20" fill="none" stroke="#6c3f9c" stroke-width="1.05" stroke-linejoin="miter"/>
<path d="M301.20,501.50 334.20,501.50 334.20,498.30 335.50,498.30 335.50,495.30 342.00,495.30 342.00,492.30 348.50,492.30 348.50,489.60 379.50,489.60 379.50,486.60 400.30,486.60 400.30,482.50 410.00,482.50 410.00,479.00 493.10,479.00" fill="none" stroke="#f59b30" stroke-width="1.05" stroke-linejoin="miter"/>
<line x1="431.9" y1="477.7" x2="431.9" y2="480.3" stroke="#f59b30" stroke-width="0.9"/>
<line x1="431.9" y1="484.9" x2="431.9" y2="487.5" stroke="#6c3f9c" stroke-width="0.9"/>
<line x1="434.2" y1="477.7" x2="434.2" y2="480.3" stroke="#f59b30" stroke-width="0.9"/>
<line x1="434.2" y1="484.9" x2="434.2" y2="487.5" stroke="#6c3f9c" stroke-width="0.9"/>
<line x1="437.7" y1="477.7" x2="437.7" y2="480.3" stroke="#f59b30" stroke-width="0.9"/>
<line x1="437.7" y1="484.9" x2="437.7" y2="487.5" stroke="#6c3f9c" stroke-width="0.9"/>
<line x1="444.6" y1="477.7" x2="444.6" y2="480.3" stroke="#f59b30" stroke-width="0.9"/>
<line x1="444.6" y1="484.9" x2="444.6" y2="487.5" stroke="#6c3f9c" stroke-width="0.9"/>
<line x1="446.9" y1="477.7" x2="446.9" y2="480.3" stroke="#f59b30" stroke-width="0.9"/>
<line x1="446.9" y1="484.9" x2="446.9" y2="487.5" stroke="#6c3f9c" stroke-width="0.9"/>
<line x1="479.2" y1="477.7" x2="479.2" y2="480.3" stroke="#f59b30" stroke-width="0.9"/>
<line x1="479.2" y1="484.9" x2="479.2" y2="487.5" stroke="#6c3f9c" stroke-width="0.9"/>
<line x1="481.5" y1="477.7" x2="481.5" y2="480.3" stroke="#f59b30" stroke-width="0.9"/>
<line x1="481.5" y1="484.9" x2="481.5" y2="487.5" stroke="#6c3f9c" stroke-width="0.9"/>
<line x1="485.0" y1="477.7" x2="485.0" y2="480.3" stroke="#f59b30" stroke-width="0.9"/>
<line x1="485.0" y1="484.9" x2="485.0" y2="487.5" stroke="#6c3f9c" stroke-width="0.9"/>
<line x1="488.5" y1="477.7" x2="488.5" y2="480.3" stroke="#f59b30" stroke-width="0.9"/>
<line x1="488.5" y1="484.9" x2="488.5" y2="487.5" stroke="#6c3f9c" stroke-width="0.9"/>
<line x1="492.0" y1="477.7" x2="492.0" y2="480.3" stroke="#f59b30" stroke-width="0.9"/>
<line x1="492.0" y1="484.9" x2="492.0" y2="487.5" stroke="#6c3f9c" stroke-width="0.9"/>
<line x1="386.8" y1="488.4" x2="386.8" y2="491.0" stroke="#6c3f9c" stroke-width="0.9"/>
<line x1="389.5" y1="488.4" x2="389.5" y2="491.0" stroke="#6c3f9c" stroke-width="0.9"/>
<line x1="387.6" y1="485.3" x2="387.6" y2="487.9" stroke="#f59b30" stroke-width="0.9"/>
<line x1="391.0" y1="485.3" x2="391.0" y2="487.9" stroke="#f59b30" stroke-width="0.9"/>
<line x1="306.3" y1="399.4" x2="327" y2="399.4" stroke="#7d55b0" stroke-width="1.1"/>
<line x1="306.3" y1="407.1" x2="327" y2="407.1" stroke="#f9a64a" stroke-width="1.1"/>
<text x="330.80" y="401.20" font-size="6.85" text-anchor="start" font-weight="400" fill="#231f20">Relapse</text>
<text x="330.80" y="408.90" font-size="6.85" text-anchor="start" font-weight="400" fill="#231f20">Non-Relapse Mortality</text>
<line x1="303.6" y1="534.6" x2="303.6" y2="565.2" stroke="#6a6a6a" stroke-width="0.9"/>
<line x1="267.5" y1="542.7" x2="507.9" y2="542.7" stroke="#6a6a6a" stroke-width="0.9"/>
<text x="309.80" y="540.50" font-size="8.3" text-anchor="middle" font-weight="700" fill="#231f20">0</text>
<text x="325.65" y="540.50" font-size="8.3" text-anchor="middle" font-weight="700" fill="#231f20">2</text>
<text x="341.50" y="540.50" font-size="8.3" text-anchor="middle" font-weight="700" fill="#231f20">4</text>
<text x="357.35" y="540.50" font-size="8.3" text-anchor="middle" font-weight="700" fill="#231f20">6</text>
<text x="373.20" y="540.50" font-size="8.3" text-anchor="middle" font-weight="700" fill="#231f20">8</text>
<text x="389.05" y="540.50" font-size="8.3" text-anchor="middle" font-weight="700" fill="#231f20">10</text>
<text x="404.90" y="540.50" font-size="8.3" text-anchor="middle" font-weight="700" fill="#231f20">12</text>
<text x="420.75" y="540.50" font-size="8.3" text-anchor="middle" font-weight="700" fill="#231f20">14</text>
<text x="436.60" y="540.50" font-size="8.3" text-anchor="middle" font-weight="700" fill="#231f20">16</text>
<text x="452.45" y="540.50" font-size="8.3" text-anchor="middle" font-weight="700" fill="#231f20">18</text>
<text x="468.30" y="540.50" font-size="8.3" text-anchor="middle" font-weight="700" fill="#231f20">20</text>
<text x="484.15" y="540.50" font-size="8.3" text-anchor="middle" font-weight="700" fill="#231f20">22</text>
<text x="500.00" y="540.50" font-size="8.3" text-anchor="middle" font-weight="700" fill="#231f20">24</text>
<text x="267.50" y="551.40" font-size="8.4" text-anchor="start" font-weight="700" fill="#231f20">Relapse</text>
<text x="309.80" y="551.40" font-size="8.3" text-anchor="middle" font-weight="400" fill="#3c3c3c" textLength="9.8" lengthAdjust="spacingAndGlyphs">38</text>
<text x="325.65" y="551.40" font-size="8.3" text-anchor="middle" font-weight="400" fill="#3c3c3c" textLength="9.8" lengthAdjust="spacingAndGlyphs">38</text>
<text x="341.50" y="551.40" font-size="8.3" text-anchor="middle" font-weight="400" fill="#3c3c3c" textLength="9.8" lengthAdjust="spacingAndGlyphs">36</text>
<text x="357.35" y="551.40" font-size="8.3" text-anchor="middle" font-weight="400" fill="#3c3c3c" textLength="9.8" lengthAdjust="spacingAndGlyphs">32</text>
<text x="373.20" y="551.40" font-size="8.3" text-anchor="middle" font-weight="400" fill="#3c3c3c" textLength="9.8" lengthAdjust="spacingAndGlyphs">31</text>
<text x="389.05" y="551.40" font-size="8.3" text-anchor="middle" font-weight="400" fill="#3c3c3c" textLength="9.8" lengthAdjust="spacingAndGlyphs">30</text>
<text x="404.90" y="551.40" font-size="8.3" text-anchor="middle" font-weight="400" fill="#3c3c3c" textLength="9.8" lengthAdjust="spacingAndGlyphs">29</text>
<text x="420.75" y="551.40" font-size="8.3" text-anchor="middle" font-weight="400" fill="#3c3c3c" textLength="9.8" lengthAdjust="spacingAndGlyphs">27</text>
<text x="436.60" y="551.40" font-size="8.3" text-anchor="middle" font-weight="400" fill="#3c3c3c" textLength="9.8" lengthAdjust="spacingAndGlyphs">26</text>
<text x="452.45" y="551.40" font-size="8.3" text-anchor="middle" font-weight="400" fill="#3c3c3c" textLength="9.8" lengthAdjust="spacingAndGlyphs">26</text>
<text x="468.30" y="551.40" font-size="8.3" text-anchor="middle" font-weight="400" fill="#3c3c3c" textLength="9.8" lengthAdjust="spacingAndGlyphs">26</text>
<text x="484.15" y="551.40" font-size="8.3" text-anchor="middle" font-weight="400" fill="#3c3c3c" textLength="9.8" lengthAdjust="spacingAndGlyphs">26</text>
<text x="500.00" y="551.40" font-size="8.3" text-anchor="middle" font-weight="400" fill="#3c3c3c" textLength="9.8" lengthAdjust="spacingAndGlyphs">26</text>
<text x="267.50" y="561.60" font-size="8.4" text-anchor="start" font-weight="700" fill="#231f20">NRM</text>
<text x="309.80" y="561.60" font-size="8.3" text-anchor="middle" font-weight="400" fill="#3c3c3c" textLength="9.8" lengthAdjust="spacingAndGlyphs">38</text>
<text x="325.65" y="561.60" font-size="8.3" text-anchor="middle" font-weight="400" fill="#3c3c3c" textLength="9.8" lengthAdjust="spacingAndGlyphs">38</text>
<text x="341.50" y="561.60" font-size="8.3" text-anchor="middle" font-weight="400" fill="#3c3c3c" textLength="9.8" lengthAdjust="spacingAndGlyphs">36</text>
<text x="357.35" y="561.60" font-size="8.3" text-anchor="middle" font-weight="400" fill="#3c3c3c" textLength="9.8" lengthAdjust="spacingAndGlyphs">32</text>
<text x="373.20" y="561.60" font-size="8.3" text-anchor="middle" font-weight="400" fill="#3c3c3c" textLength="9.8" lengthAdjust="spacingAndGlyphs">31</text>
<text x="389.05" y="561.60" font-size="8.3" text-anchor="middle" font-weight="400" fill="#3c3c3c" textLength="9.8" lengthAdjust="spacingAndGlyphs">30</text>
<text x="404.90" y="561.60" font-size="8.3" text-anchor="middle" font-weight="400" fill="#3c3c3c" textLength="9.8" lengthAdjust="spacingAndGlyphs">29</text>
<text x="420.75" y="561.60" font-size="8.3" text-anchor="middle" font-weight="400" fill="#3c3c3c" textLength="9.8" lengthAdjust="spacingAndGlyphs">27</text>
<text x="436.60" y="561.60" font-size="8.3" text-anchor="middle" font-weight="400" fill="#3c3c3c" textLength="9.8" lengthAdjust="spacingAndGlyphs">26</text>
<text x="452.45" y="561.60" font-size="8.3" text-anchor="middle" font-weight="400" fill="#3c3c3c" textLength="9.8" lengthAdjust="spacingAndGlyphs">26</text>
<text x="468.30" y="561.60" font-size="8.3" text-anchor="middle" font-weight="400" fill="#3c3c3c" textLength="9.8" lengthAdjust="spacingAndGlyphs">26</text>
<text x="484.15" y="561.60" font-size="8.3" text-anchor="middle" font-weight="400" fill="#3c3c3c" textLength="9.8" lengthAdjust="spacingAndGlyphs">26</text>
<text x="500.00" y="561.60" font-size="8.3" text-anchor="middle" font-weight="400" fill="#3c3c3c" textLength="9.8" lengthAdjust="spacingAndGlyphs">26</text>
</svg>
</body></html>
